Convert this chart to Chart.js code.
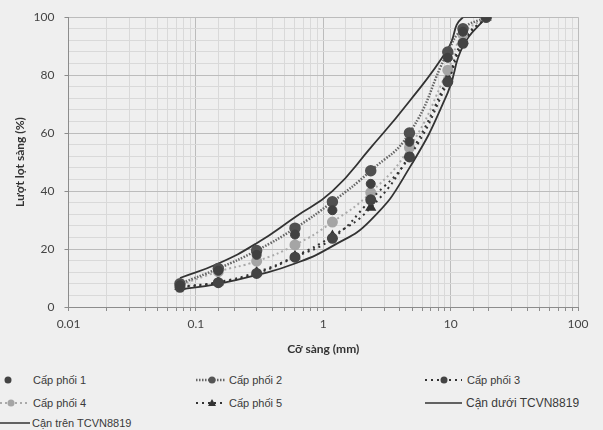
<!DOCTYPE html>
<html lang="vi">
  <head>
    <meta charset="UTF-8" />
    <title>Cấp phối</title>
    <script src="https://cdn.jsdelivr.net/npm/chart.js@4.4.0/dist/chart.umd.min.js"></script>
    <style>
      body {
        margin: 0;
        padding: 0;
        background: #efefef;
        font-family: "Liberation Sans", sans-serif;
      }

      .wrap {
        position: relative;
        width: 603px;
        height: 430px;
        overflow: hidden;
      }

      .chart-box {
        position: absolute;
        left: 0;
        top: 0;
        width: 603px;
        height: 360px;
      }

      #legend {
        position: absolute;
        left: 0;
        top: 360px;
      }

      #legend text {
        font-size: 11px;
        fill: #3a3a3a;
      }
    </style>
  </head>

  <body>
    <div class="wrap">
      <div class="chart-box">
        <canvas id="chart"></canvas>
      </div>
      <svg id="legend" width="603" height="70">
        <!-- row 1 -->
        <circle cx="8" cy="20" r="3.5" fill="#444" />
        <text x="33" y="24">Cấp phối 1</text>
        <line x1="196" y1="20" x2="226" y2="20" stroke="#666" stroke-width="2.5" stroke-dasharray="1.5 1.5" />
        <circle cx="212" cy="20" r="3.5" fill="#555" />
        <text x="229" y="24">Cấp phối 2</text>
        <line x1="425" y1="20" x2="462" y2="20" stroke="#333" stroke-width="2" stroke-dasharray="2 4" />
        <circle cx="444" cy="20" r="3.5" fill="#444" />
        <text x="467" y="24">Cấp phối 3</text>
        <!-- row 2 -->
        <line x1="0" y1="43" x2="30" y2="43" stroke="#aaa" stroke-width="2" stroke-dasharray="2 3" />
        <circle cx="11" cy="43" r="3.5" fill="#a5a5a5" />
        <text x="33" y="47">Cấp phối 4</text>
        <line x1="196" y1="43" x2="226" y2="43" stroke="#333" stroke-width="2" stroke-dasharray="2 4" />
        <path d="M212 39 L216 46 L208 46 Z" fill="#333" />
        <text x="229" y="47">Cấp phối 5</text>
        <line x1="425" y1="43" x2="462" y2="43" stroke="#333" stroke-width="1.5" />
        <text x="466" y="47" style="font-size: 12px">Cận dưới TCVN8819</text>
        <!-- row 3 -->
        <line x1="0" y1="63" x2="30" y2="63" stroke="#333" stroke-width="1.5" />
        <text x="32" y="67">Cận trên TCVN8819</text>
      </svg>
    </div>

    <script>
      // sieve sizes (mm)
      var sieves = [19, 12.5, 9.5, 4.75, 2.36, 1.18, 0.6, 0.3, 0.15, 0.075];

      // percent passing for each mix
      var cp1 = [100, 95, 86, 57, 42.5, 33.4, 25, 18, 12.5, 7.5];
      var cp2 = [100, 96, 88, 60, 47, 36.3, 27.2, 19.5, 13.3, 8];
      var cp3 = [100, 91, 77.7, 51.8, 37, 23.7, 17.2, 11.6, 8.4, 6.8];
      var cp4 = [100, 94, 81.7, 55, 39.5, 29.3, 21.4, 15.8, 12.2, 7.5];
      var cp5 = [100, 92, 79, 52.5, 34.3, 24.5, 17.5, 12, 8.6, 7];

      // TCVN 8819 limits
      var lowerLimit = [100, 90, 74, 48, 30, 21, 15, 11, 8, 6];
      var upperLimit = [100, 100, 89, 71, 55, 40, 31, 22, 15, 10];

      var xMajorTicks = [0.01, 0.1, 1, 10, 100];
      var yMajorTicks = [0, 20, 40, 60, 80, 100];

      function pts(arr) {
        return sieves.map(function (s, i) {
          return { x: s, y: arr[i] };
        });
      }

      function isDecade(v) {
        var l = Math.log10(v);
        return Math.abs(l - Math.round(l)) < 1e-9;
      }

      var bgPlugin = {
        id: "bg",
        beforeDraw: function (chart) {
          var c = chart.ctx;
          c.save();
          c.fillStyle = "#efefef";
          c.fillRect(0, 0, chart.width, chart.height);
          c.restore();
        },
      };

      var tickFont = { family: "Lato, 'Liberation Sans', sans-serif", size: 12 };
      var titleFont = { family: "Lato, 'Liberation Sans', sans-serif", size: 12, weight: "bold" };
      var smooth = 0.5;

      var ctx = document.getElementById("chart").getContext("2d");
      var myChart = new Chart(ctx, {
        type: "scatter",
        plugins: [bgPlugin],
        data: {
          datasets: [
            {
              label: "Cấp phối 1",
              data: pts(cp1),
              showLine: false,
              pointRadius: 4.5,
              pointBackgroundColor: "#404040",
              pointBorderColor: "#404040",
            },
            {
              label: "Cấp phối 2",
              data: pts(cp2),
              showLine: true,
              tension: smooth,
              borderColor: "#666",
              borderWidth: 2.5,
              borderDash: [1.5, 1.5],
              pointRadius: 4.5,
              pointBackgroundColor: "#505050",
              pointBorderColor: "#505050",
            },
            {
              label: "Cấp phối 3",
              data: pts(cp3),
              showLine: true,
              tension: smooth,
              borderColor: "#333",
              borderWidth: 2,
              borderDash: [2, 4],
              pointRadius: 4.5,
              pointBackgroundColor: "#444",
              pointBorderColor: "#444",
            },
            {
              label: "Cấp phối 4",
              data: pts(cp4),
              showLine: true,
              tension: smooth,
              borderColor: "#aaa",
              borderWidth: 2,
              borderDash: [2, 3],
              pointRadius: 4.5,
              pointBackgroundColor: "#a5a5a5",
              pointBorderColor: "#a5a5a5",
            },
            {
              label: "Cấp phối 5",
              data: pts(cp5),
              showLine: true,
              tension: smooth,
              borderColor: "#333",
              borderWidth: 2,
              borderDash: [2, 4],
              pointStyle: "triangle",
              pointRadius: 4.5,
              pointBackgroundColor: "#333",
              pointBorderColor: "#333",
            },
            {
              label: "Cận dưới TCVN8819",
              data: pts(lowerLimit),
              showLine: true,
              tension: smooth,
              borderColor: "#333",
              borderWidth: 1.8,
              pointRadius: 0,
            },
            {
              label: "Cận trên TCVN8819",
              data: pts(upperLimit),
              showLine: true,
              tension: smooth,
              borderColor: "#333",
              borderWidth: 1.8,
              pointRadius: 0,
            },
          ],
        },
        options: {
          responsive: true,
          maintainAspectRatio: false,
          animation: false,
          layout: { padding: { top: 17, right: 25, left: 0, bottom: 0 } },
          plugins: {
            legend: { display: false },
            tooltip: { enabled: false },
          },
          scales: {
            x: {
              type: "logarithmic",
              min: 0.01,
              max: 100,
              afterFit: function (scale) {
                scale.height = 53;
              },
              border: { color: "#8c8c8c" },
              grid: {
                color: function (c) {
                  return c.tick && isDecade(c.tick.value) ? "#bcbcbc" : "#d9d9d9";
                },
                tickLength: 4,
                tickColor: "#8c8c8c",
              },
              ticks: {
                autoSkip: false,
                maxRotation: 0,
                padding: 6,
                color: "#444",
                font: tickFont,
                callback: function (v) {
                  return xMajorTicks.indexOf(Number(v)) >= 0 || isDecade(v) ? String(Number(v.toPrecision(3))) : "";
                },
              },
              title: {
                display: true,
                text: "Cỡ sàng (mm)",
                color: "#333",
                font: titleFont,
                padding: { top: 0, bottom: 4 },
              },
            },
            y: {
              min: 0,
              max: 100,
              afterFit: function (scale) {
                scale.width = 68.5;
              },
              border: { color: "#8c8c8c" },
              grid: {
                color: function (c) {
                  return c.tick && c.tick.value % 20 === 0 ? "#bcbcbc" : "#d9d9d9";
                },
                tickLength: 4,
                tickColor: function (c) {
                  return c.tick && c.tick.value % 20 === 0 ? "#8c8c8c" : "rgba(0,0,0,0)";
                },
              },
              ticks: {
                stepSize: 4,
                autoSkip: false,
                padding: 10,
                color: "#444",
                font: tickFont,
                callback: function (v) {
                  return yMajorTicks.indexOf(v) >= 0 ? String(v) : "";
                },
              },
              title: {
                display: true,
                text: "Lượt lọt sàng (%)",
                color: "#333",
                font: titleFont,
                padding: { top: 13, bottom: 0 },
              },
            },
          },
        },
      });
    </script>
  </body>
</html>
